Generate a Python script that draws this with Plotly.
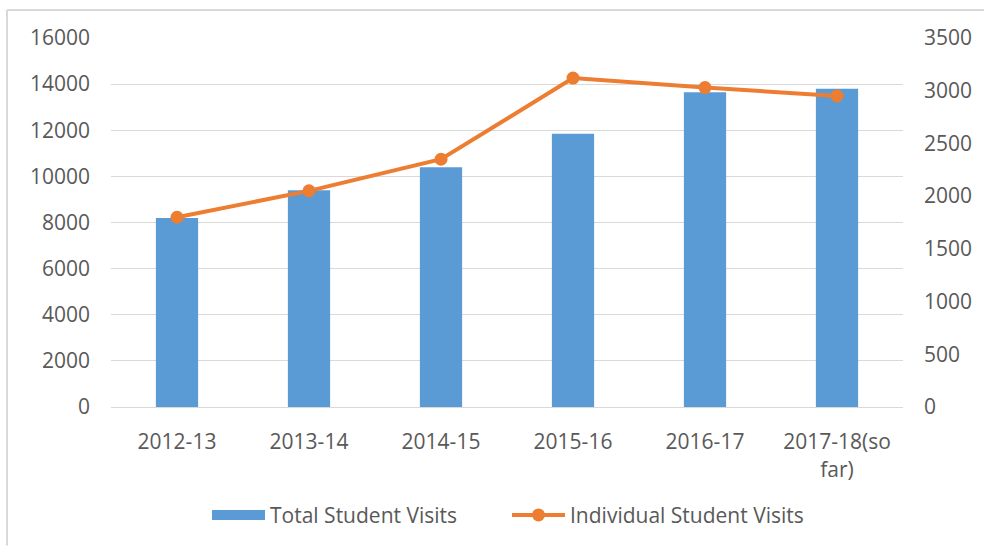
import plotly.graph_objects as go

categories = ["2012-13", "2013-14", "2014-15", "2015-16", "2016-17", "2017-18(so<br>far)"]
total_visits = [8200, 9400, 10400, 11850, 13650, 13800]
individual_visits = [1800, 2050, 2350, 3120, 3030, 2950]
left_ticks = [0, 2000, 4000, 6000, 8000, 10000, 12000, 14000, 16000]
right_ticks = [0, 500, 1000, 1500, 2000, 2500, 3000, 3500]

FONT = "Open Sans, sans-serif"
TXT = "#595959"
BLUE = "#5B9BD5"
ORANGE = "#ED7D31"
FS = 21

fig = go.Figure()
fig.add_trace(go.Bar(
    x=categories, y=total_visits, name="Total Student Visits",
    marker=dict(color=BLUE, line=dict(width=0)), width=0.32, showlegend=False,
))
# legend-only swatch for the bars (wide rectangle as in the reference)
fig.add_trace(go.Scatter(
    x=[None], y=[None], name="Total Student Visits", mode="lines",
    line=dict(color=BLUE, width=11),
))
fig.add_trace(go.Scatter(
    x=categories, y=individual_visits, name="Individual Student Visits",
    mode="lines+markers", yaxis="y2",
    line=dict(color=ORANGE, width=4),
    marker=dict(color=ORANGE, size=13),
))

fig.update_layout(
    width=984, height=547,
    margin=dict(l=111, r=81, t=38, b=139),
    paper_bgcolor="white", plot_bgcolor="white",
    font=dict(family=FONT, size=FS, color=TXT),
    showlegend=True,
    legend=dict(orientation="h", x=0.5, xanchor="center", y=-0.29, yanchor="middle",
                font=dict(size=FS, color=TXT), traceorder="normal", itemwidth=53,
                entrywidth=232, entrywidthmode="pixels"),
    bargap=0.68,
    xaxis=dict(showgrid=False, showline=True, linecolor="#D9D9D9", linewidth=1,
               ticks="", ticklabelstandoff=16, tickfont=dict(size=FS, color=TXT)),
    yaxis=dict(range=[0, 16000], tickvals=left_ticks, tickformat="d", showgrid=True,
               gridcolor="#D9D9D9", gridwidth=1, zeroline=False, ticks="",
               ticklabelstandoff=20, tickfont=dict(size=FS, color=TXT)),
    yaxis2=dict(range=[0, 3500], tickvals=right_ticks, tickformat="d", overlaying="y",
                side="right", showgrid=False, zeroline=False, ticks="",
                ticklabelstandoff=20, tickfont=dict(size=FS, color=TXT)),
    shapes=[
        dict(type="line", xref="paper", yref="paper",
             x0=-104/792, x1=1 + 81/792, y0=1 + 28/370, y1=1 + 28/370,
             line=dict(color="#D9D9D9", width=2), layer="below"),
        dict(type="line", xref="paper", yref="paper",
             x0=-104/792, x1=-104/792, y0=1 + 28/370, y1=-139/370,
             line=dict(color="#D9D9D9", width=2), layer="below"),
    ],
)

fig.write_html("out.html")
